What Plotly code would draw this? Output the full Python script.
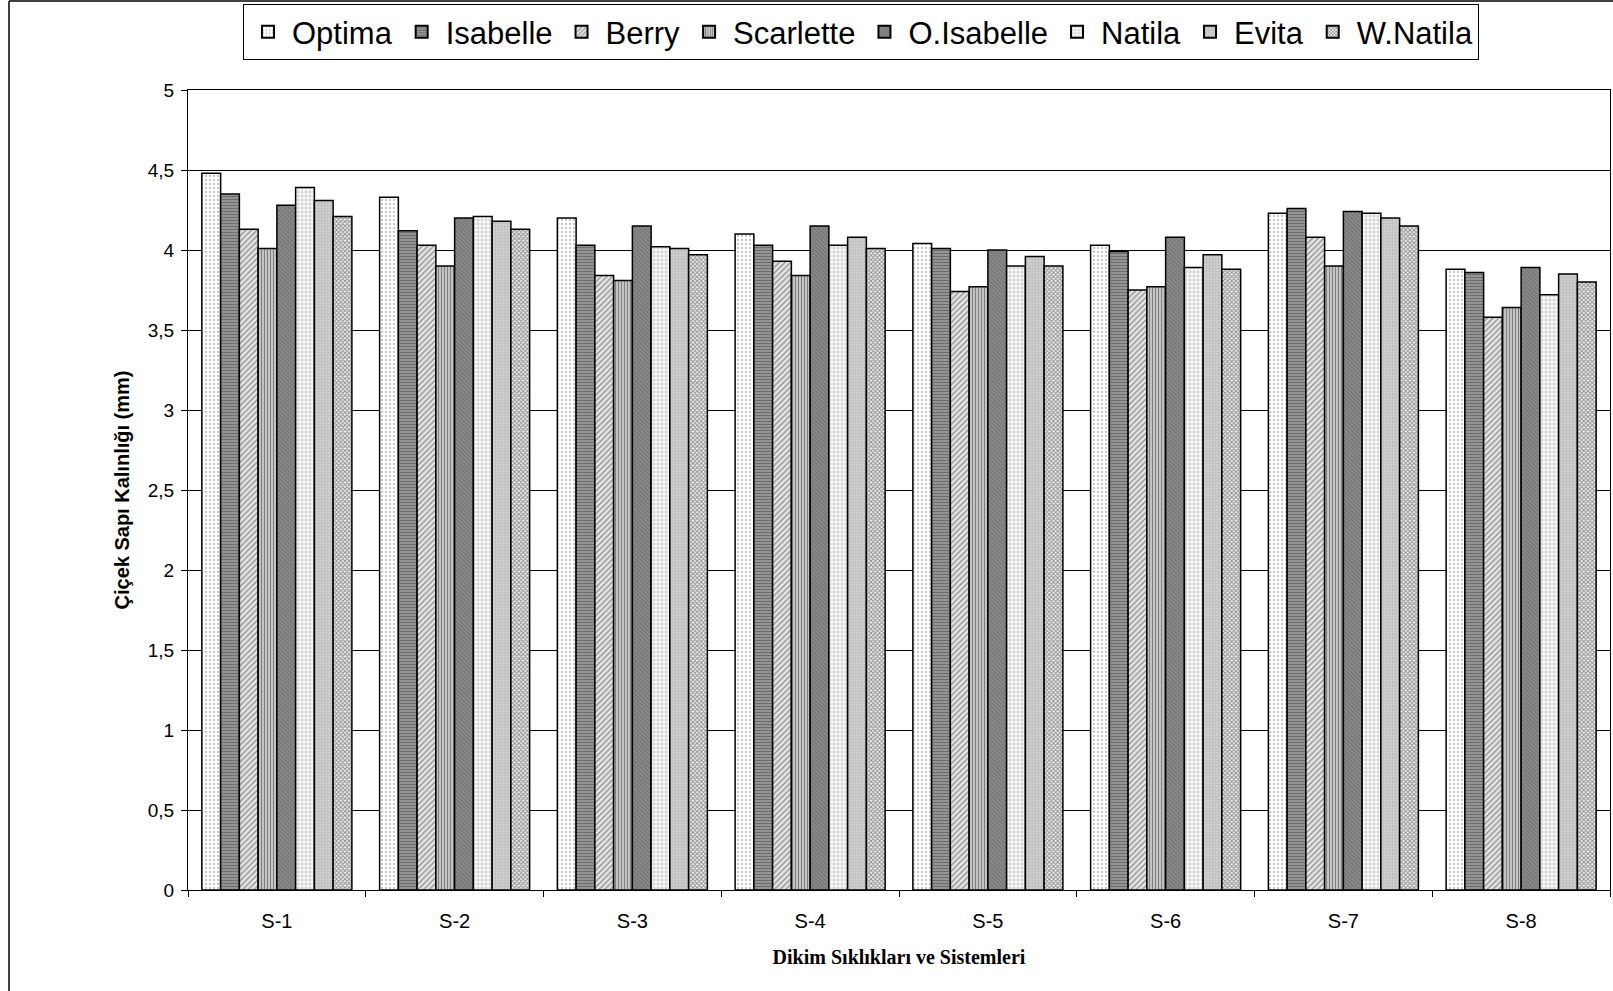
import plotly.graph_objects as go

# Planting densities / systems on the x axis
categories = ["S-1", "S-2", "S-3", "S-4", "S-5", "S-6", "S-7", "S-8"]

# Flower stem thickness (mm) per cultivar
optima     = [4.48, 4.33, 4.20, 4.10, 4.04, 4.03, 4.23, 3.88]
isabelle   = [4.35, 4.12, 4.03, 4.03, 4.01, 3.99, 4.26, 3.86]
berry      = [4.13, 4.03, 3.84, 3.93, 3.74, 3.75, 4.08, 3.58]
scarlette  = [4.01, 3.90, 3.81, 3.84, 3.77, 3.77, 3.90, 3.64]
o_isabelle = [4.28, 4.20, 4.15, 4.15, 4.00, 4.08, 4.24, 3.89]
natila     = [4.39, 4.21, 4.02, 4.03, 3.90, 3.89, 4.23, 3.72]
evita      = [4.31, 4.18, 4.01, 4.08, 3.96, 3.97, 4.20, 3.85]
w_natila   = [4.21, 4.13, 3.97, 4.01, 3.90, 3.88, 4.15, 3.80]

series_names = ["Optima", "Isabelle", "Berry", "Scarlette", "O.Isabelle",
                "Natila", "Evita", "W.Natila"]
series_values = [optima, isabelle, berry, scarlette, o_isabelle,
                 natila, evita, w_natila]

# Monochrome hatch fills, one per cultivar
patterns = [
    dict(shape=".", bgcolor="#ffffff", fgcolor="#8a8a8a", size=4, solidity=0.25),
    dict(shape="-", bgcolor="#a0a0a0", fgcolor="#3a3a3a", size=3, solidity=0.5),
    dict(shape="/", bgcolor="#e6e6e6", fgcolor="#3c3c3c", size=4, solidity=0.35),
    dict(shape="|", bgcolor="#d0d0d0", fgcolor="#303030", size=3, solidity=0.45),
    dict(shape="\\", bgcolor="#8c8c8c", fgcolor="#5a5a5a", size=3, solidity=0.45),
    dict(shape="+", bgcolor="#ffffff", fgcolor="#808080", size=4, solidity=0.35),
    dict(shape=".", bgcolor="#cfcfcf", fgcolor="#a6a6a6", size=3, solidity=0.4),
    dict(shape="x", bgcolor="#efefef", fgcolor="#303030", size=3, solidity=0.55),
]

fig = go.Figure()
for name, vals, pat in zip(series_names, series_values, patterns):
    fig.add_trace(go.Bar(
        x=categories, y=vals, name=name,
        marker=dict(color=pat["bgcolor"], pattern=pat,
                    line=dict(color="#000000", width=1.5)),
    ))

W, H = 1613, 991
L, R, T, B = 188, 3, 90, 101
pw, ph = W - L - R, H - T - B


def px_x(p):
    return (p - L) / pw


def px_y(p):
    return (H - B - p) / ph


sans = "Liberation Sans, Arial, sans-serif"

fig.update_layout(
    width=W, height=H,
    margin=dict(l=L, r=R, t=T, b=B),
    paper_bgcolor="white", plot_bgcolor="white",
    barmode="group", bargap=0.156, bargroupgap=0.0,
    separators=", ",
    font=dict(family=sans, color="#000000"),
    showlegend=True,
    legend=dict(
        orientation="h", x=px_x(243), y=px_y(4), xanchor="left", yanchor="top",
        font=dict(family=sans, size=31, color="#000000"),
        bgcolor="white", bordercolor="#000000", borderwidth=1,
        traceorder="normal", itemsizing="constant", itemwidth=38,
    ),
    xaxis=dict(
        type="category", tickson="boundaries",
        showline=True, linecolor="#000000", linewidth=1, mirror=True,
        ticks="outside", ticklen=6, tickcolor="#000000",
        tickfont=dict(family=sans, size=20),
        ticklabelstandoff=13,
        showgrid=False,
        title=dict(text="Dikim Sıklıkları ve Sistemleri",
                   font=dict(family="Liberation Serif, Times New Roman, serif",
                             size=20, weight="bold"),
                   standoff=18),
    ),
    yaxis=dict(
        range=[0, 5], dtick=0.5, tick0=0,
        showline=True, linecolor="#000000", linewidth=1, mirror=True,
        ticks="outside", ticklen=6, tickcolor="#000000",
        tickfont=dict(family=sans, size=19),
        ticklabelstandoff=3,
        showgrid=True, gridcolor="#000000", gridwidth=1,
        zeroline=False,
        title=dict(text="Çiçek Sapı Kalınlığı (mm)",
                   font=dict(family=sans, size=20, weight="bold"),
                   standoff=12),
    ),
    shapes=[
        # chart frame (left and top edges)
        dict(type="line", xref="paper", yref="paper",
             x0=px_x(9), x1=px_x(9), y0=px_y(1), y1=px_y(H),
             line=dict(color="#000000", width=1.5)),
        dict(type="line", xref="paper", yref="paper",
             x0=px_x(9), x1=px_x(W), y0=px_y(1), y1=px_y(1),
             line=dict(color="#000000", width=1.5)),
    ],
)

fig.write_html("out.html")
